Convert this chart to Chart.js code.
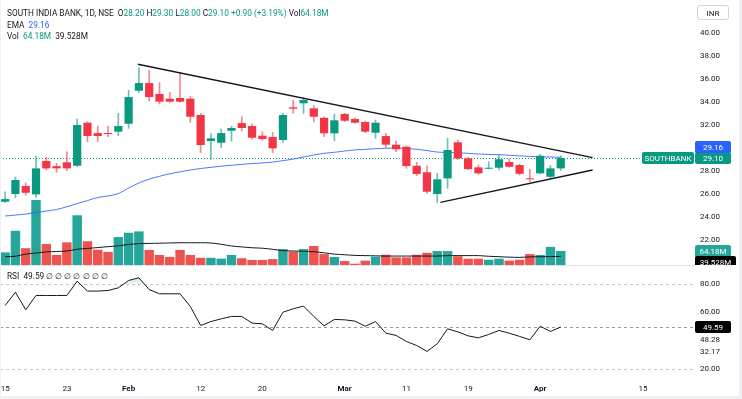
<!DOCTYPE html>
<html>
<head>
<meta charset="utf-8">
<script src="https://cdn.jsdelivr.net/npm/chart.js@4.4.1/dist/chart.umd.min.js"></script>
<style>
    body { margin: 0; background: #fff; width: 742px; height: 399px; overflow: hidden; position: relative; font-family: Roboto, sans-serif; }
    .pane { position: absolute; left: 0; width: 742px; }
    .legend { position: absolute; left: 7px; font-size: 8.3px; line-height: 10px; color: #131722; white-space: pre; }
    .up { color: #089981; }
    .ema { color: #2962ff; }
    .frame { position: absolute; background: #eef0f4; }
    #inr { position: absolute; left: 697px; top: 5px; width: 32px; height: 15px; border: 1px solid #d1d4dc; border-radius: 3px; font-size: 8px; line-height: 15px; text-align: center; color: #131722; box-sizing: border-box; }
</style>
</head>
<body>
<div class="pane" style="top:0;height:265px"><canvas id="myChartMain"></canvas></div>
<div class="pane" style="top:265px;height:134px"><canvas id="myChartRsi"></canvas></div>
<div class="legend" id="linha1" style="top:8px"></div>
<div class="legend" id="linha2" style="top:20px"></div>
<div class="legend" id="linha3" style="top:31px"></div>
<div class="legend" id="linha4" style="top:271px"></div>
<div id="inr">INR</div>
<div class="frame" style="left:0;top:0;width:1px;height:399px"></div>
<div class="frame" style="left:739px;top:0;width:3px;height:399px"></div>
<div class="frame" style="left:0;top:396px;width:742px;height:3px"></div>
<script>
// trading days shown (Jan 15 - Apr 3)
const dates = ['Jan 15','Jan 16','Jan 17','Jan 18','Jan 19','Jan 20','Jan 23','Jan 24','Jan 25','Jan 29','Jan 30','Jan 31',
    'Feb 1','Feb 2','Feb 5','Feb 6','Feb 7','Feb 8','Feb 9','Feb 12','Feb 13','Feb 14','Feb 15','Feb 16','Feb 19','Feb 20',
    'Feb 21','Feb 22','Feb 23','Feb 26','Feb 27','Feb 28','Feb 29','Mar 1','Mar 2','Mar 4','Mar 5','Mar 6','Mar 7','Mar 11',
    'Mar 12','Mar 13','Mar 14','Mar 15','Mar 18','Mar 19','Mar 20','Mar 21','Mar 22','Mar 26','Mar 27','Mar 28',
    'Apr 1','Apr 2','Apr 3'];

const open = [25.30, 25.97, 26.67, 25.94, 28.84, 28.40, 28.73, 28.43, 32.17, 31.27, 31.27, 31.39, 32.08, 34.95, 35.62, 34.67,
    34.26, 34.32, 34.26, 32.84, 30.58, 30.43, 31.47, 32.14, 31.88, 31.04, 30.93, 30.67, 33.51, 33.86, 33.42, 32.60, 31.25,
    32.93, 32.49, 32.23, 31.30, 31.01, 30.26, 30.08, 28.43, 27.86, 25.97, 27.33, 30.47, 29.07, 28.29, 28.17, 28.26, 28.75,
    28.49, 27.33, 27.77, 27.47, 28.20];
const high = [26.17, 27.45, 26.95, 29.27, 29.19, 28.64, 29.65, 32.49, 32.26, 31.88, 31.88, 32.99, 35.01, 36.95, 36.72, 35.65,
    34.81, 36.55, 34.46, 32.99, 31.21, 31.62, 31.86, 32.69, 32.08, 31.39, 31.33, 32.99, 34.14, 34.34, 33.65, 32.69, 32.93,
    32.99, 32.60, 32.32, 32.40, 31.25, 30.58, 30.14, 28.73, 28.43, 27.77, 30.81, 30.67, 29.16, 28.49, 28.78, 29.36, 29.01,
    28.58, 28.12, 29.42, 28.43, 29.30];
const low = [25.21, 25.65, 25.88, 25.70, 28.06, 27.86, 28.00, 28.34, 30.52, 30.52, 30.95, 31.04, 31.68, 34.81, 34.06, 33.80,
    33.94, 33.94, 32.20, 29.56, 28.99, 29.99, 30.58, 31.45, 30.75, 30.64, 29.56, 30.46, 32.99, 32.99, 32.26, 30.95, 30.60,
    32.26, 32.12, 31.30, 30.81, 30.03, 29.65, 28.20, 27.56, 26.03, 25.25, 26.47, 28.95, 28.06, 27.68, 28.17, 28.06, 28.29,
    27.62, 27.04, 27.71, 27.33, 28.00];
const close = [25.53, 27.19, 26.08, 28.20, 28.20, 28.20, 28.20, 31.97, 31.01, 31.01, 31.19, 31.88, 34.40, 35.62, 34.40, 34.00,
    34.00, 34.00, 32.69, 30.23, 30.81, 31.27, 31.71, 31.71, 30.87, 30.75, 29.94, 32.84, 33.39, 34.14, 32.69, 31.25, 32.38,
    32.34, 32.17, 31.39, 32.17, 30.26, 29.86, 28.40, 27.71, 26.17, 27.25, 29.80, 29.07, 28.14, 27.77, 28.25, 28.99, 28.34,
    27.73, 27.25, 29.30, 28.20, 29.10];

const ema = [24.06, 24.14, 24.23, 24.36, 24.49, 24.62, 24.87, 25.14, 25.40, 25.67, 25.80, 26.01, 26.49, 26.93, 27.27, 27.51,
    27.73, 27.90, 28.06, 28.19, 28.29, 28.39, 28.47, 28.55, 28.62, 28.67, 28.75, 28.87, 29.01, 29.19, 29.36, 29.51, 29.60,
    29.71, 29.80, 29.86, 29.91, 29.95, 29.96, 29.93, 29.86, 29.75, 29.62, 29.58, 29.55, 29.51, 29.45, 29.41, 29.39, 29.34,
    29.29, 29.24, 29.20, 29.19, 29.16];

// volume in millions
const volume = [58, 157, 77, 298, 96, 46, 104, 228, 109, 70, 60, 128, 148, 154, 69, 46, 37, 69, 46, 33, 33, 29, 46, 31, 23,
    23, 27, 73, 61, 73, 87, 50, 37, 18, 6, 20, 38, 47, 35, 35, 47, 56, 64, 64, 40, 29, 29, 24, 29, 20, 24, 50, 46, 83, 64.18];
const volumeMa = [38, 40, 50, 55, 60, 62, 64, 72, 76, 80, 84, 88, 94, 98, 99, 100, 101, 102, 102, 102, 101, 95, 87, 83, 79,
    77, 72, 66, 64, 63, 61, 56, 50, 47, 44, 43, 42, 41, 41, 41, 41, 41, 41, 43, 43, 43, 43, 40, 38, 36, 35, 37, 38, 38.5, 39.528];

const rsi = [64.8, 74.2, 61.8, 71.9, 71.9, 71.9, 71.9, 82.0, 75.0, 75.0, 75.4, 77.3, 82.5, 84.4, 76.1, 73.1, 73.1, 73.1,
    64.1, 50.7, 53.5, 55.4, 57.1, 57.1, 52.4, 51.9, 47.2, 60.1, 62.5, 64.4, 57.1, 50.5, 55.0, 54.7, 53.8, 50.2, 53.5, 45.3,
    43.7, 39.4, 36.6, 32.4, 37.8, 48.4, 46.2, 43.4, 42.0, 44.4, 47.2, 45.3, 43.0, 40.6, 50.2, 46.5, 49.59];
const rsiOther = [48.28, 32.17];

// triangle drawn on the chart (bar index, price)
const upperLine = [{ x: 12.9, y: 37.25 }, { x: 57.1, y: 29.13 }];
const lowerLine = [{ x: 42.3, y: 25.25 }, { x: 57.1, y: 28.06 }];

// time axis
const tickPos = [0, 6, 12, 19, 25, 33, 39, 45, 52, 62];
const tickText = ['15', '23', 'Feb', '12', '20', 'Mar', '11', '19', 'Apr', '15'];
const monthTicks = [12, 33, 52];
const priceTicks = [22, 24, 26, 28, 32, 34, 36, 38, 40];
const rsiTicks = [80, 60, 20];
const rsiLevels = [80, 50, 20];
const symbol = 'SOUTHBANK';

const UP = '#089981', DOWN = '#f23645';
const last = dates.length - 1;
const idx = dates.map((d, i) => i);
const isUp = idx.map(i => close[i] >= open[i]);

// legend
const chg = close[last] - close[last - 1];
linha1.innerHTML = `SOUTH INDIA BANK, 1D, NSE  O<span class="up">${open[last].toFixed(2)}</span> H<span class="up">${high[last].toFixed(2)}</span> L<span class="up">${low[last].toFixed(2)}</span> C<span class="up">${close[last].toFixed(2)}</span> <span class="up">+${chg.toFixed(2)} (+${(chg * 100 / close[last - 1]).toFixed(2)}%)</span> Vol<span class="up">${volume[last].toFixed(2)}M</span>`;
linha2.innerHTML = `EMA  <span class="ema">${ema[last].toFixed(2)}</span>`;
linha3.innerHTML = `Vol  <span class="up">${volume[last].toFixed(2)}M</span>  ${volumeMa[last].toFixed(3)}M`;
linha4.innerHTML = `RSI  ${rsi[last].toFixed(2)} \u2205 \u2205 \u2205 \u2205 \u2205 \u2205 \u2205`;

Chart.defaults.font.family = 'Roboto, sans-serif';
Chart.defaults.font.size = 8;
Chart.defaults.color = '#131722';

function tag(ctx, x, y, w, bg, text) {
    ctx.fillStyle = bg;
    ctx.beginPath();
    ctx.roundRect(x, y - 6, w, 12, 2);
    ctx.fill();
    ctx.fillStyle = '#fff';
    ctx.textAlign = 'center';
    ctx.textBaseline = 'middle';
    ctx.fillText(text, x + w / 2, y + 0.5);
}

const xAxis = {
    type: 'linear', min: -0.5, max: 67.05, offset: false,
    grid: { display: false, drawTicks: false }, border: { display: false },
    afterBuildTicks: s => { s.ticks = tickPos.map(v => ({ value: v })); },
    ticks: {
        autoSkip: false, maxRotation: 0, padding: 6,
        callback: v => tickText[tickPos.indexOf(v)],
        font: c => ({ size: 8, weight: c.tick && monthTicks.includes(c.tick.value) ? 'bold' : 'normal' })
    },
    afterFit: s => { s.height = 21; s.paddingLeft = 0; s.paddingRight = 0; }
};

const mainMarks = {
    id: 'mainMarks',
    beforeDatasetsDraw(chart) {
        const { ctx, chartArea, scales } = chart;
        const y = Math.round(scales.y.getPixelForValue(close[last])) + 0.5;
        ctx.save();
        ctx.strokeStyle = UP;
        ctx.setLineDash([1, 2]);
        ctx.beginPath();
        ctx.moveTo(chartArea.left, y);
        ctx.lineTo(chartArea.right, y);
        ctx.stroke();
        ctx.restore();
    },
    afterDraw(chart) {
        const { ctx, chartArea, scales } = chart;
        const r = chartArea.right;
        const yc = scales.y.getPixelForValue(close[last]);
        const yv = scales.vol.getPixelForValue(volume[last]);
        ctx.save();
        ctx.font = '8px Roboto, sans-serif';
        tag(ctx, r - 53, yc, 52, UP, symbol);
        tag(ctx, r, yc, 36, UP, close[last].toFixed(2));
        tag(ctx, r, yc - 11, 36, '#2962ff', ema[last].toFixed(2));
        tag(ctx, r, yv, 36, '#26a69a', volume[last].toFixed(2) + 'M');
        tag(ctx, r, yv + 11, 41, '#000', volumeMa[last].toFixed(3) + 'M');
        ctx.restore();
    }
};

var ctxMain = document.getElementById('myChartMain').getContext('2d');
myChartMain = new Chart(ctxMain, {
    type: 'bar',
    data: {
        datasets: [
            {
                type: 'line', data: upperLine, borderColor: '#131722', borderWidth: 1.4,
                pointRadius: 0, order: 0
            },
            {
                type: 'line', data: lowerLine, borderColor: '#131722', borderWidth: 1.4,
                pointRadius: 0, order: 0
            },
            {
                data: idx.map(i => ({ x: i, y: [open[i], close[i]] })),
                backgroundColor: isUp.map(u => u ? UP : DOWN),
                barPercentage: 0.8, categoryPercentage: 1, grouped: false, minBarLength: 1, order: 1
            },
            {
                data: idx.map(i => ({ x: i, y: [low[i], high[i]] })),
                backgroundColor: isUp.map(u => u ? 'rgba(8,153,129,0.6)' : 'rgba(242,54,69,0.6)'),
                barThickness: 1, grouped: false, order: 2
            },
            {
                type: 'line', data: idx.map(i => ({ x: i, y: ema[i] })), borderColor: 'rgba(41,98,255,0.85)',
                borderWidth: 1, pointRadius: 0, tension: 0.3, order: 3
            },
            {
                type: 'line', yAxisID: 'vol', data: idx.map(i => ({ x: i, y: volumeMa[i] })), borderColor: '#131722',
                borderWidth: 1, pointRadius: 0, tension: 0.3, order: 4
            },
            {
                yAxisID: 'vol', data: idx.map(i => ({ x: i, y: volume[i] })),
                backgroundColor: isUp.map(u => u ? '#26a69a' : '#ef5350'),
                barPercentage: 0.92, categoryPercentage: 1, grouped: false, order: 5
            }
        ]
    },
    options: {
        responsive: true, maintainAspectRatio: false, animation: false,
        layout: { padding: 0 },
        plugins: { legend: { display: false }, tooltip: { enabled: false } },
        scales: {
            x: Object.assign({}, xAxis, { display: false, afterFit: s => { s.height = 0; } }),
            y: {
                position: 'right', min: 19.8, max: 42.84,
                grid: { display: false, drawTicks: false }, border: { display: false },
                afterBuildTicks: s => { s.ticks = priceTicks.map(v => ({ value: v })); },
                ticks: { padding: 5, callback: v => v.toFixed(2) },
                afterFit: s => { s.width = 47; s.paddingTop = 0; s.paddingBottom = 0; }
            },
            vol: { display: false, min: 0, max: 1215 }
        }
    },
    plugins: [mainMarks]
});

const rsiMarks = {
    id: 'rsiMarks',
    beforeDatasetsDraw(chart) {
        const { ctx, chartArea, scales } = chart;
        ctx.save();
        // pane separator
        ctx.fillStyle = '#e0e3eb';
        ctx.fillRect(0, 0, chartArea.right, 1);
        ctx.setLineDash([3, 3]);
        rsiLevels.forEach(v => {
            const y = Math.round(scales.y.getPixelForValue(v)) + 0.5;
            ctx.strokeStyle = v === 50 ? '#9598a1' : '#c5c8d0';
            ctx.beginPath();
            ctx.moveTo(chartArea.left, y);
            ctx.lineTo(chartArea.right, y);
            ctx.stroke();
        });
        ctx.restore();
    },
    afterDraw(chart) {
        const { ctx, chartArea, scales } = chart;
        const r = chartArea.right;
        const y = scales.y.getPixelForValue(rsi[last]);
        ctx.save();
        ctx.font = '8px Roboto, sans-serif';
        tag(ctx, r, y, 36, '#000', rsi[last].toFixed(2));
        ctx.fillStyle = '#131722';
        ctx.textAlign = 'left';
        ctx.textBaseline = 'middle';
        ctx.fillText(rsiOther[0].toFixed(2), r + 5, y + 13);
        ctx.fillText(rsiOther[1].toFixed(2), r + 5, scales.y.getPixelForValue(rsiOther[1]));
        ctx.restore();
    }
};

var ctxRsi = document.getElementById('myChartRsi').getContext('2d');
const fillGrad = ctxRsi.createLinearGradient(0, 8, 0, 20);
fillGrad.addColorStop(0, 'rgba(76,175,80,0.45)');
fillGrad.addColorStop(1, 'rgba(76,175,80,0.05)');

myChartRsi = new Chart(ctxRsi, {
    type: 'line',
    data: {
        datasets: [
            {
                data: idx.map(i => ({ x: i, y: rsi[i] })), borderColor: '#131722', borderWidth: 1,
                pointRadius: 0, tension: 0,
                fill: { value: 80, above: fillGrad, below: 'transparent' }
            }
        ]
    },
    options: {
        responsive: true, maintainAspectRatio: false, animation: false,
        layout: { padding: { top: 2 } },
        plugins: { legend: { display: false }, tooltip: { enabled: false } },
        scales: {
            x: xAxis,
            y: {
                position: 'right', min: 13.65, max: 92,
                grid: { display: false, drawTicks: false }, border: { display: false },
                afterBuildTicks: s => { s.ticks = rsiTicks.map(v => ({ value: v })); },
                ticks: { padding: 5, callback: v => v.toFixed(2) },
                afterFit: s => { s.width = 47; s.paddingTop = 0; s.paddingBottom = 0; }
            }
        }
    },
    plugins: [rsiMarks]
});
</script>
</body>
</html>
